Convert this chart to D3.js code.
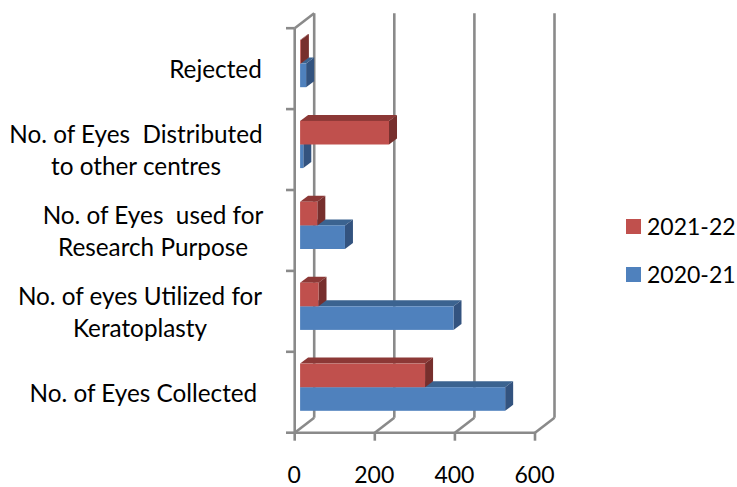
<!DOCTYPE html>
<html><head><meta charset="utf-8">
<script src="https://cdn.jsdelivr.net/npm/d3@7"></script>
<style>html,body{margin:0;padding:0;background:#fff}svg{display:block}text{font-family:Lato,sans-serif;font-size:23px;fill:#000;white-space:pre}text.cat{font-size:24.3px}</style>
</head><body><div id="c"></div>
<script>
const categoryLines = [
  ["No. of Eyes Collected "],
  ["No. of eyes Utilized for", "Keratoplasty"],
  ["No. of Eyes  used for", "Research Purpose"],
  ["No. of Eyes  Distributed", "to other centres"],
  ["Rejected"]
];
const categories = categoryLines.map(d => d.join(" "));
const seriesNames = ["2020-21", "2021-22"];
const values2021 = [512, 383, 112, 8, 15];
const values2122 = [312, 46, 43, 222, 2];
const xTicks = [0, 200, 400, 600];
const colors = {
  "2020-21": {front:"#4f81bd", top:"#3b6390", side:"#33537f"},
  "2021-22": {front:"#c0504d", top:"#8c3836", side:"#772f2d"}
};

const W = 737, H = 487;
const svg = d3.select("#c").append("svg").attr("width", W).attr("height", H);
const x = d3.scaleLinear().domain([0, 600]).range([294.7, 535]);
const y = d3.scaleBand().domain(categories).range([432.7, 28.2]);
const inner = d3.scaleBand().domain(seriesNames).range([59, 11.8]);
const depth = {dx: 19.5, dy: -15};
const barOff = {dx: 5.4};
const barDepth = {dx: 8, dy: -6};
const axisColor = "#8a8a8a";

const axisG = svg.append("g").attr("stroke", axisColor).attr("stroke-width", 2.6).attr("fill", "none");
const ln = (a, b, c, d) => axisG.append("line").attr("x1", a).attr("y1", b).attr("x2", c).attr("y2", d);
const [yBottom, yTop] = y.range();
xTicks.forEach(t => {
  const px = x(t);
  ln(px + depth.dx, yTop + depth.dy, px + depth.dx, yBottom + depth.dy);
  ln(px, yBottom, px + depth.dx, yBottom + depth.dy);
  ln(px, yBottom, px, yBottom + 8);
});
ln(x(0), yTop, x(0), yBottom);
ln(x(0), yTop, x(0) + depth.dx, yTop + depth.dy);
ln(x(0), yBottom, x(600), yBottom);
const yEdges = categories.map(c => y(c) + y.bandwidth()).concat([yTop]);
yEdges.forEach(v => ln(x(0) - 8.7, v, x(0), v));

function bar(g, x0, x1, yt, h, c) {
  const d = barDepth;
  const path = p => "M" + p.map(q => q.join(",")).join("L") + "Z";
  g.append("path").attr("fill", c.top).attr("d", path([[x0, yt], [x1, yt], [x1 + d.dx, yt + d.dy], [x0 + d.dx, yt + d.dy]]));
  g.append("path").attr("fill", c.side).attr("d", path([[x1, yt], [x1 + d.dx, yt + d.dy], [x1 + d.dx, yt + h + d.dy], [x1, yt + h]]));
  g.append("rect").attr("x", x0).attr("y", yt).attr("width", x1 - x0).attr("height", h).attr("fill", c.front);
}
const offX = v => x(v) + barOff.dx;
const seriesValues = [values2021, values2122];
const barsG = svg.append("g");
seriesNames.forEach((s, si) => {
  categories.forEach((cat, i) => {
    bar(barsG, offX(0), offX(seriesValues[si][i]), y(cat) + inner(s), inner.bandwidth(), colors[s]);
  });
});

svg.append("g").selectAll("text").data(xTicks).join("text")
  .attr("x", d => x(d) - 0.5).attr("y", 483).attr("text-anchor", "middle").text(d => d);

const labelCenters = [146.5, 140, 153, 136, 215.5];
categoryLines.forEach((lines, i) => {
  const cy = y(categories[i]) + y.bandwidth() / 2;
  lines.forEach((l, j) => {
    svg.append("text").attr("class", "cat").attr("x", labelCenters[i]).attr("text-anchor", "middle")
      .attr("y", cy + 9.5 - (lines.length - 1) * 16 + j * 32).text(l);
  });
});

const legend = svg.append("g");
[...seriesNames].reverse().forEach((s, i) => {
  const ly = 219 + i * 48;
  legend.append("rect").attr("x", 626).attr("y", ly).attr("width", 15).attr("height", 15).attr("fill", colors[s].front);
  legend.append("text").attr("x", 647).attr("y", ly + 16).text(s);
});
</script></body></html>
